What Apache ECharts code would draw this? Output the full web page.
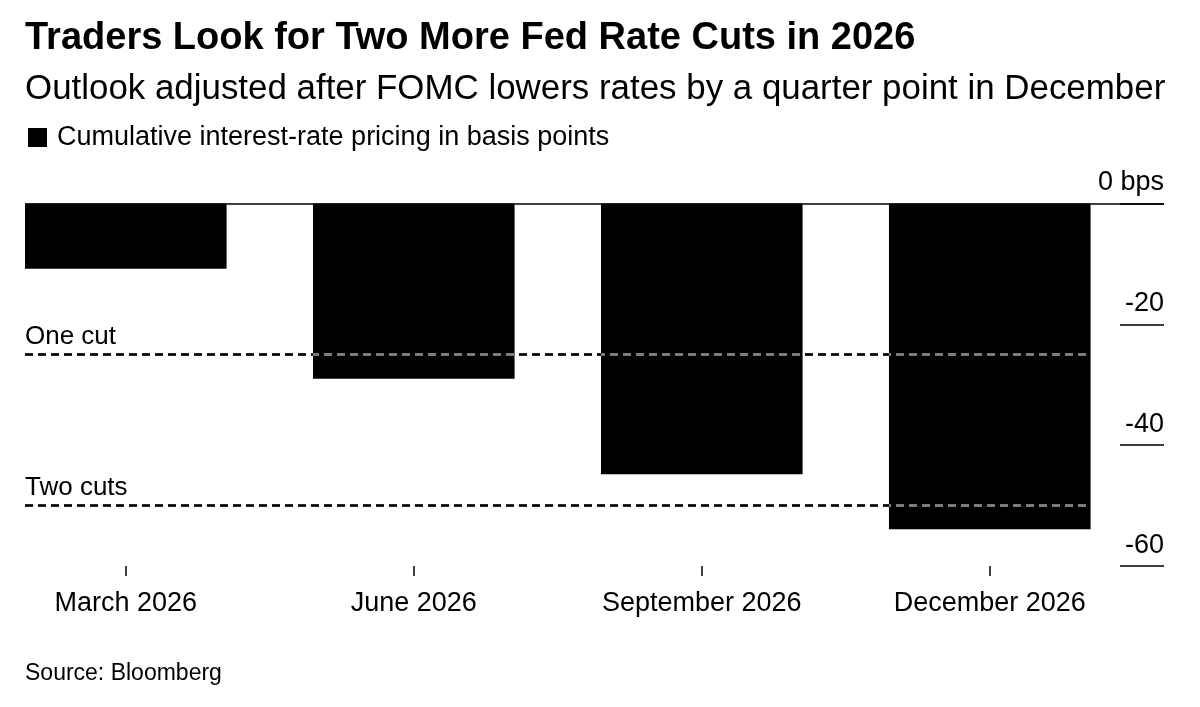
<!DOCTYPE html>
<html>
<head>
<meta charset="utf-8">
<script src="https://cdn.jsdelivr.net/npm/echarts@6/dist/echarts.min.js"></script>
<style>
  html, body { margin: 0; padding: 0; background: #fff; }
  #chart { width: 1200px; height: 707px; }
</style>
</head>
<body>
<div id="chart"></div>
<script>
const categories = ['March 2026', 'June 2026', 'September 2026', 'December 2026'];
const pricing = [-10.8, -29.0, -44.8, -53.9];
const yTickValues = [0, -20, -40, -60];
const cutNames = ['One cut', 'Two cuts'];
const cutLevels = [-25, -50];
const seriesName = 'Cumulative interest-rate pricing in basis points';

const FONT = "'Liberation Sans', Arial, Helvetica, sans-serif";
const barHalf = 0.35;
const xMin = -barHalf;
const xMax = 3.605;
const lineEnd = categories.length - 1 + barHalf;
const idx = categories.map((c, i) => i);

const chart = echarts.init(document.getElementById('chart'), null, { renderer: 'canvas' });

const cutSeries = [];
cutLevels.forEach((lvl, i) => {
  const d = [[xMin, lvl], [lineEnd, lvl]];
  cutSeries.push({
    type: 'line', data: d, symbol: 'none', silent: true, z: 5,
    blendMode: 'difference',
    lineStyle: { color: '#ffffff', width: 2.5, type: [8, 5] }
  });
  cutSeries.push({
    type: 'line', data: d, symbol: 'none', silent: true, z: 6,
    blendMode: 'multiply',
    lineStyle: { color: '#808080', width: 2.5, type: [8, 5] }
  });
});

const option = {
  animation: false,
  backgroundColor: '#ffffff',
  textStyle: { fontFamily: FONT },
  title: [
    { text: 'Traders Look for Two More Fed Rate Cuts in 2026', left: 25, top: 19.5, padding: 0,
      textStyle: { fontFamily: FONT, fontSize: 38, fontWeight: 'bold', color: '#000' } },
    { text: 'Outlook adjusted after FOMC lowers rates by a quarter point in December', left: 25, top: 71.5, padding: 0,
      textStyle: { fontFamily: FONT, fontSize: 34.9, fontWeight: 'normal', color: '#000' } },
    { text: 'Source: Bloomberg', left: 25, top: 662, padding: 0,
      textStyle: { fontFamily: FONT, fontSize: 23, fontWeight: 'normal', color: '#000' } }
  ],
  legend: {
    data: [seriesName], left: 28, top: 124, padding: 0,
    icon: 'rect', itemWidth: 19, itemHeight: 19, selectedMode: false,
    textStyle: { fontFamily: FONT, fontSize: 27, color: '#000', padding: [0, 0, 0, 5] }
  },
  grid: { left: 25, right: 36, top: 203.5, bottom: 141, containLabel: false },
  xAxis: {
    type: 'value', min: xMin, max: xMax,
    axisLine: { show: false, onZero: false },
    splitLine: { show: false },
    axisTick: { show: true, customValues: idx, length: 10, lineStyle: { color: '#000', width: 1.5 } },
    axisLabel: { customValues: idx, formatter: v => categories[Math.round(v)], fontFamily: FONT, fontSize: 27, color: '#000', margin: 24 }
  },
  yAxis: {
    type: 'value', position: 'right', min: -60, max: 0, interval: 20,
    axisLine: { show: false, onZero: false },
    splitLine: { show: false },
    axisTick: { show: true, inside: true, length: 44, lineStyle: { color: '#000', width: 1.5 } },
    axisLabel: {
      inside: true, margin: 0, align: 'right', verticalAlign: 'bottom', padding: [0, 0, 7, 0],
      fontFamily: FONT, fontSize: 27, color: '#000',
      formatter: v => (v === 0 ? '0 bps' : String(v))
    }
  },
  series: [
    {
      name: seriesName, type: 'bar', barWidth: '70%', z: 2,
      data: pricing.map((v, i) => [i, v]),
      itemStyle: { color: '#000' },
      markLine: {
        silent: true, symbol: 'none', label: { show: false },
        lineStyle: { color: '#000', width: 1.5, type: 'solid' },
        data: [{ yAxis: 0 }]
      }
    },
    ...cutSeries,
    {
      type: 'scatter', clip: false, silent: true, z: 7, symbolSize: 1,
      itemStyle: { color: 'rgba(255,255,255,0)' },
      data: cutLevels.map((l, i) => ({ value: [xMin, l], name: cutNames[i] })),
      label: { show: true, formatter: '{b}', position: 'top', align: 'left', distance: 4,
        fontFamily: FONT, fontSize: 26, color: '#000', opacity: 1 }
    }
  ]
};
chart.setOption(option);
</script>
</body>
</html>
